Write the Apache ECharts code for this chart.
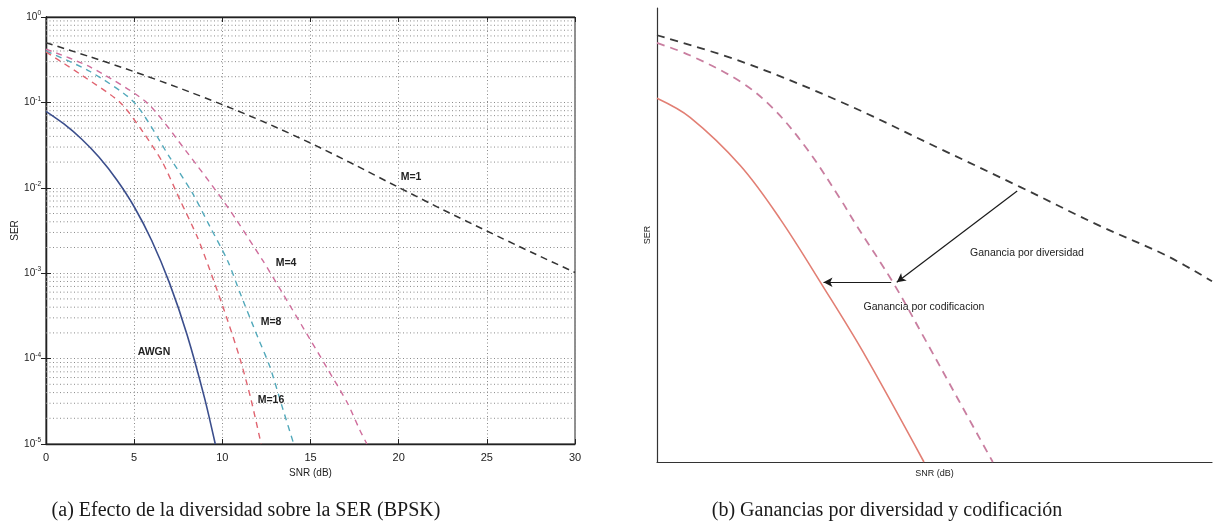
<!DOCTYPE html>
<html>
<head>
<meta charset="utf-8">
<script src="https://cdn.jsdelivr.net/npm/echarts@6/dist/echarts.min.js"></script>
<style>html,body{margin:0;padding:0;background:#fff;}#c{width:1216px;height:529px;}</style>
</head>
<body>
<div id="c"></div>
<script>
// ---------- Panel (a): SER vs SNR (dB), BPSK ----------
var snrM1 = [0, 2.5, 5, 7.5, 10, 12.5, 15, 17.5, 20, 22.5, 25, 27.5, 30];
var serM1 = [0.5, 0.342, 0.229, 0.149, 0.0942, 0.0574, 0.0334, 0.0186, 0.0101, 0.00555, 0.00312, 0.00177, 0.00102];

var snrM4 = [0, 2.5, 5.7, 8.0, 9.9, 10.8, 12.3, 13.4, 15.0, 15.9, 17.1, 17.8, 18.2];
var serM4 = [0.42, 0.26, 0.1, 0.026, 0.0078, 0.0042, 0.0014, 5.9e-4, 1.65e-4, 8e-5, 3e-5, 1.45e-5, 1e-5];

var snrM8 = [0, 2.5, 5.0, 7.0, 8.3, 9.3, 10.3, 11.0, 12.0, 12.7, 13.4, 14.05];
var serM8 = [0.4, 0.23, 0.1, 0.023, 0.0087, 0.0035, 0.0014, 5.9e-4, 1.8e-4, 8e-5, 2.7e-5, 1e-5];

var snrM16 = [0, 2, 4.2, 5.5, 6.6, 7.6, 8.6, 9.5, 10.3, 11.0, 11.6, 12.2];
var serM16 = [0.39, 0.21, 0.1, 0.045, 0.02, 0.0072, 0.0026, 8.3e-4, 2.8e-4, 1e-4, 3.5e-5, 1e-5];

var snrAwgn = [0, 1, 2, 3, 4, 5, 6, 7, 8, 9, 9.6];
var serAwgn = [0.0786, 0.0563, 0.0375, 0.0229, 0.0125, 0.006, 0.0024, 0.00077, 0.00019, 0.000034, 0.00001];

var decadesA = [-5, -4, -3, -2, -1, 0];
var minorMult = [2, 3, 4, 5, 6, 7, 8, 9];

// ---------- Panel (b): schematic (arbitrary units 0-100) ----------
var bxNoDiv = [0, 15.0, 33.0, 51.0, 65.4, 79.8, 91.9, 100];
var byNoDiv = [94.0, 88.3, 79.4, 69.0, 60.6, 52.0, 45.4, 39.8];

var bxDiv = [0, 5.9, 15.0, 20.9, 27.0, 33.0, 36.0, 42.5, 48.3, 54.4, 60.5];
var byDiv = [92.3, 89.6, 83.8, 77.9, 69.0, 58.0, 52.0, 39.6, 27.0, 13.5, 0];

var bxCod = [0, 5.95, 15.0, 22.2, 29.9, 37.1, 48.1];
var byCod = [80.1, 75.9, 65.3, 53.5, 38.7, 24.3, 0];

var arrowDiv = [[64.9, 59.7], [43.2, 39.6]];
var arrowCod = [[42.2, 39.6], [30.0, 39.6]];

function zip(a, b) { return a.map(function (v, i) { return [v, b[i]]; }); }

// minor log grid lines (2..9 x 10^e), as broken line segments across the x range
var minorGridData = [];
decadesA.slice(0, 5).forEach(function (e) {
  minorMult.forEach(function (k) {
    var v = k * Math.pow(10, e);
    minorGridData.push([0, v], [30, v], '-');
  });
});

var FONT = 'Liberation Sans, Arial, sans-serif';
var gridDot = { color: '#8a8a8a', width: 1, type: [1, 2.5] };

var chart = echarts.init(document.getElementById('c'), null, { renderer: 'canvas' });

var labelStyle = function (txt, x, y, bold) {
  return { type: 'text', x: x, y: y, z: 10, style: { text: txt, fontFamily: FONT, fontSize: 10.5, fontWeight: bold ? 'bold' : 'normal', fill: '#222', align: 'center', verticalAlign: 'middle' } };
};

var option = {
  backgroundColor: '#fff',
  animation: false,
  grid: [
    { left: 46, top: 17, width: 529, height: 427, show: true, borderColor: '#222', borderWidth: 1, backgroundColor: 'transparent' },
    { left: 657, top: 8, width: 555, height: 454 }
  ],
  xAxis: [
    {
      gridIndex: 0, type: 'value', min: 0, max: 30, interval: 5,
      name: 'SNR (dB)', nameLocation: 'middle', nameGap: 24,
      nameTextStyle: { fontFamily: FONT, fontSize: 10, color: '#222' },
      axisLine: { lineStyle: { color: '#222', width: 1.3 } },
      axisTick: { inside: true, length: 5, lineStyle: { color: '#222' } },
      axisLabel: { fontFamily: FONT, fontSize: 11, color: '#222', margin: 8 },
      splitLine: { show: true, lineStyle: gridDot }
    },
    {
      gridIndex: 0, type: 'value', min: 0, max: 30, interval: 5, position: 'top',
      axisLine: { lineStyle: { color: '#222', width: 1.3 } },
      axisTick: { inside: true, length: 5, lineStyle: { color: '#222' } },
      axisLabel: { show: false }, splitLine: { show: false }
    },
    {
      gridIndex: 1, type: 'value', min: 0, max: 100,
      name: 'SNR (dB)', nameLocation: 'middle', nameGap: 7,
      nameTextStyle: { fontFamily: FONT, fontSize: 9, color: '#222' },
      axisLine: { lineStyle: { color: '#333', width: 1.2 } },
      axisTick: { show: false }, axisLabel: { show: false }, splitLine: { show: false }
    }
  ],
  yAxis: [
    {
      gridIndex: 0, type: 'log', logBase: 10, min: 1e-5, max: 1,
      name: 'SER', nameLocation: 'middle', nameGap: 26,
      nameTextStyle: { fontFamily: FONT, fontSize: 10, color: '#222' },
      axisLine: { lineStyle: { color: '#222', width: 1.3 } },
      axisTick: { inside: true, length: 5, lineStyle: { color: '#222' } },
      axisLabel: {
        fontFamily: FONT, color: '#222', margin: 5,
        formatter: function (v) {
          var e = Math.round(Math.log10(v));
          return '{b|10}{s|' + e + '}';
        },
        rich: {
          b: { fontFamily: FONT, fontSize: 10, color: '#222' },
          s: { fontFamily: FONT, fontSize: 6.5, color: '#222', padding: [0, 0, 7, 0] }
        }
      },
      splitLine: { show: true, lineStyle: gridDot }
    },
    {
      gridIndex: 0, type: 'log', logBase: 10, min: 1e-5, max: 1, position: 'right',
      axisLine: { lineStyle: { color: '#222', width: 1.3 } },
      axisTick: { inside: true, length: 5, lineStyle: { color: '#222' } },
      axisLabel: { show: false }, splitLine: { show: false }
    },
    {
      gridIndex: 1, type: 'value', min: 0, max: 100,
      name: 'SER', nameLocation: 'middle', nameGap: 5,
      nameTextStyle: { fontFamily: FONT, fontSize: 9, color: '#222' },
      axisLine: { lineStyle: { color: '#333', width: 1.2 } },
      axisTick: { show: false }, axisLabel: { show: false }, splitLine: { show: false }
    }
  ],
  series: [
    {
      name: 'minor grid', type: 'line', xAxisIndex: 0, yAxisIndex: 0, data: minorGridData, silent: true, z: 1,
      showSymbol: false, connectNulls: false, lineStyle: gridDot
    },
    {
      name: 'M=1', type: 'line', xAxisIndex: 0, yAxisIndex: 0, data: zip(snrM1, serM1), smooth: 0.25,
      showSymbol: false, lineStyle: { color: '#333', width: 1.5, type: [7, 5] }, z: 3
    },
    {
      name: 'M=4', type: 'line', xAxisIndex: 0, yAxisIndex: 0, data: zip(snrM4, serM4), smooth: 0.25,
      showSymbol: false, lineStyle: { color: '#cf6d9c', width: 1.4, type: [6, 5] }, z: 3
    },
    {
      name: 'M=8', type: 'line', xAxisIndex: 0, yAxisIndex: 0, data: zip(snrM8, serM8), smooth: 0.25,
      showSymbol: false, lineStyle: { color: '#52a9bb', width: 1.4, type: [6, 5] }, z: 3
    },
    {
      name: 'M=16', type: 'line', xAxisIndex: 0, yAxisIndex: 0, data: zip(snrM16, serM16), smooth: 0.25,
      showSymbol: false, lineStyle: { color: '#e06470', width: 1.4, type: [6, 5] }, z: 3
    },
    {
      name: 'AWGN', type: 'line', xAxisIndex: 0, yAxisIndex: 0, data: zip(snrAwgn, serAwgn), smooth: 0.25,
      showSymbol: false, lineStyle: { color: '#3b4e8c', width: 1.6 }, z: 3
    },
    {
      name: 'sin diversidad', type: 'line', xAxisIndex: 2, yAxisIndex: 2, data: zip(bxNoDiv, byNoDiv), smooth: 0.35,
      showSymbol: false, lineStyle: { color: '#3a3a3a', width: 1.8, type: [8, 6] }
    },
    {
      name: 'con diversidad', type: 'line', xAxisIndex: 2, yAxisIndex: 2, data: zip(bxDiv, byDiv), smooth: 0.35,
      showSymbol: false, lineStyle: { color: '#c97ea0', width: 1.8, type: [8, 6] }
    },
    {
      name: 'con codificacion', type: 'line', xAxisIndex: 2, yAxisIndex: 2, data: zip(bxCod, byCod), smooth: 0.35,
      showSymbol: false, lineStyle: { color: '#e27f74', width: 1.6 },
      markLine: {
        silent: true, symbol: ['none', 'arrow'], symbolSize: [7, 9], label: { show: false },
        lineStyle: { color: '#1a1a1a', width: 1.2, type: 'solid' },
        data: [
          [{ coord: arrowDiv[0] }, { coord: arrowDiv[1] }],
          [{ coord: arrowCod[0] }, { coord: arrowCod[1] }]
        ]
      }
    }
  ],
  graphic: [
    labelStyle('AWGN', 154, 352, true),
    labelStyle('M=1', 411, 177, true),
    labelStyle('M=4', 286, 263, true),
    labelStyle('M=8', 271, 322, true),
    labelStyle('M=16', 271, 400, true),
    labelStyle('Ganancia por diversidad', 1027, 253, false),
    labelStyle('Ganancia por codificacion', 924, 307, false),
    { type: 'text', x: 246, y: 511, style: { text: '(a) Efecto de la diversidad sobre la SER (BPSK)', fontFamily: 'Liberation Serif, Times New Roman, serif', fontSize: 20, fill: '#1a1a1a', align: 'center', verticalAlign: 'middle' } },
    { type: 'text', x: 887, y: 511, style: { text: '(b) Ganancias por diversidad y codificación', fontFamily: 'Liberation Serif, Times New Roman, serif', fontSize: 20, fill: '#1a1a1a', align: 'center', verticalAlign: 'middle' } }
  ]
};
chart.setOption(option);
</script>
</body>
</html>
